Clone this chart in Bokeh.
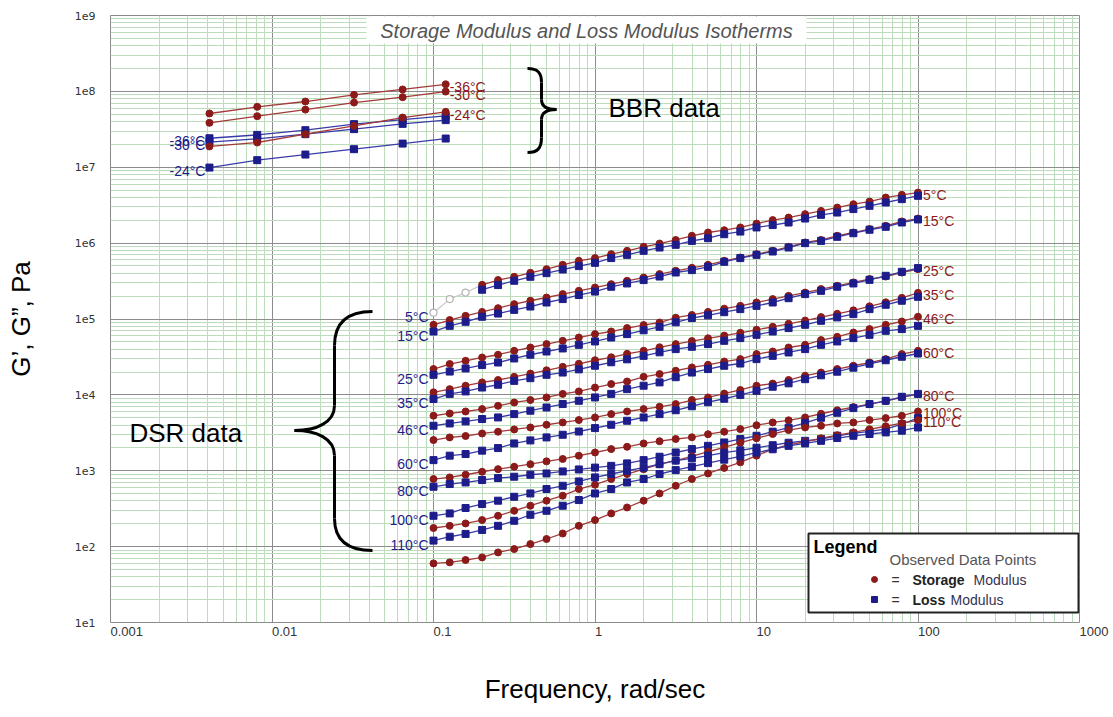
from bokeh.plotting import figure
from bokeh.models import FixedTicker, Label, BoxAnnotation
from bokeh.core.properties import value
from bokeh.embed import file_html
from bokeh.resources import INLINE

# ---------------- data ----------------
freq_dsr = [0.1, 0.126, 0.158, 0.2, 0.251, 0.316, 0.398, 0.501, 0.631, 0.794,
            1.0, 1.26, 1.58, 2.0, 2.51, 3.16, 3.98, 5.01, 6.31, 7.94,
            10.0, 12.6, 15.8, 20.0, 25.1, 31.6, 39.8, 50.1, 63.1, 79.4, 100.0]
freq_bbr = [0.0041, 0.0081, 0.0161, 0.0322, 0.0644, 0.119]

# 5 C: measured points start at 0.2 rad/s; shifted (grey) points below that
shift_05C = [1.21e5, 1.83e5, 2.23e5]
storage_05C = [2.82e5, 3.26e5, 3.60e5, 4.06e5, 4.54e5, 5.18e5, 5.85e5, 6.35e5, 7.16e5, 7.92e5,
               8.94e5, 9.88e5, 1.10e6, 1.25e6, 1.38e6, 1.48e6, 1.61e6, 1.81e6, 2.01e6, 2.17e6,
               2.41e6, 2.66e6, 2.94e6, 3.26e6, 3.53e6, 3.99e6, 4.33e6, 4.64e6]
loss_05C = [2.43e5, 2.80e5, 3.19e5, 3.60e5, 4.02e5, 4.49e5, 4.98e5, 5.50e5, 6.35e5, 7.01e5,
            7.92e5, 8.75e5, 9.50e5, 1.07e6, 1.16e6, 1.31e6, 1.42e6, 1.61e6, 1.73e6, 1.87e6,
            2.11e6, 2.36e6, 2.53e6, 2.81e6, 3.10e6, 3.43e6, 3.80e6, 4.20e6]
storage_15C = [8.39e4, 9.68e4, 1.10e5, 1.24e5, 1.39e5, 1.57e5, 1.74e5, 1.92e5, 2.13e5, 2.35e5,
               2.60e5, 2.88e5, 3.19e5, 3.52e5, 3.91e5, 4.32e5, 4.73e5, 5.18e5, 5.85e5, 6.46e5,
               7.16e5, 7.92e5, 8.94e5, 1.02e6, 1.10e6, 1.25e6, 1.38e6, 1.53e6, 1.69e6, 1.93e6, 2.11e6]
loss_15C = [6.84e4, 8.13e4, 9.19e4, 1.07e5, 1.18e5, 1.32e5, 1.46e5, 1.65e5, 1.83e5, 2.07e5,
            2.30e5, 2.66e5, 2.94e5, 3.26e5, 3.63e5, 4.10e5, 4.41e5, 4.87e5, 5.67e5, 6.35e5,
            7.01e5, 7.75e5, 8.75e5, 1.00e6, 1.07e6, 1.21e6, 1.35e6, 1.50e6, 1.64e6, 1.87e6, 2.05e6]
storage_25C = [2.19e4, 2.55e4, 2.81e4, 3.11e4, 3.38e4, 3.81e4, 4.21e4, 4.67e4, 5.16e4, 5.70e4,
               6.32e4, 6.84e4, 7.59e4, 8.32e4, 8.99e4, 1.04e5, 1.13e5, 1.24e5, 1.37e5, 1.49e5,
               1.65e5, 1.83e5, 2.02e5, 2.23e5, 2.48e5, 2.74e5, 3.03e5, 3.36e5, 3.63e5, 4.10e5, 4.54e5]
loss_25C = [1.84e4, 2.03e4, 2.23e4, 2.47e4, 2.67e4, 3.02e4, 3.38e4, 3.73e4, 4.09e4, 4.57e4,
            5.06e4, 5.70e4, 6.32e4, 7.10e4, 7.89e4, 9.05e4, 1.03e5, 1.12e5, 1.23e5, 1.35e5,
            1.49e5, 1.65e5, 1.88e5, 2.13e5, 2.35e5, 2.66e5, 2.94e5, 3.28e5, 3.71e5, 4.19e5, 4.69e5]
storage_35C = [1.08e4, 1.19e4, 1.32e4, 1.46e4, 1.57e4, 1.73e4, 1.91e4, 2.11e4, 2.34e4, 2.57e4,
               2.86e4, 3.13e4, 3.48e4, 3.81e4, 4.24e4, 4.67e4, 5.12e4, 5.57e4, 6.04e4, 6.58e4,
               7.21e4, 7.89e4, 8.65e4, 9.55e4, 1.06e5, 1.17e5, 1.30e5, 1.47e5, 1.66e5, 1.90e5, 2.21e5]
loss_35C = [8.81e3, 1.03e4, 1.11e4, 1.25e4, 1.36e4, 1.53e4, 1.66e4, 1.84e4, 1.97e4, 2.17e4,
            2.42e4, 2.69e4, 2.94e4, 3.27e4, 3.64e4, 4.01e4, 4.30e4, 4.67e4, 5.16e4, 5.60e4,
            6.19e4, 6.84e4, 7.59e4, 8.39e4, 9.47e4, 1.05e5, 1.16e5, 1.35e5, 1.54e5, 1.74e5, 1.96e5]
storage_46C = [5.31e3, 5.69e3, 6.04e3, 6.50e3, 7.18e3, 7.94e3, 8.55e3, 9.25e3, 1.03e4, 1.11e4,
               1.25e4, 1.39e4, 1.50e4, 1.73e4, 1.88e4, 2.08e4, 2.30e4, 2.49e4, 2.75e4, 2.96e4,
               3.45e4, 3.73e4, 4.21e4, 4.57e4, 5.27e4, 5.82e4, 6.64e4, 7.36e4, 8.39e4, 9.27e4, 1.07e5]
loss_46C = [3.92e3, 4.20e3, 4.47e3, 4.80e3, 5.04e3, 5.58e3, 6.18e3, 6.82e3, 7.57e3, 8.36e3,
            9.25e3, 1.03e4, 1.19e4, 1.32e4, 1.46e4, 1.71e4, 1.97e4, 2.19e4, 2.42e4, 2.59e4,
            2.96e4, 3.27e4, 3.62e4, 4.01e4, 4.57e4, 5.06e4, 5.60e4, 6.19e4, 6.99e4, 7.36e4, 8.13e4]
storage_60C = [2.54e3, 2.75e3, 2.87e3, 3.10e3, 3.27e3, 3.50e3, 3.72e3, 4.04e3, 4.33e3, 4.66e3,
               5.04e3, 5.58e3, 6.04e3, 6.50e3, 6.97e3, 7.57e3, 8.55e3, 9.25e3, 1.04e4, 1.16e4,
               1.32e4, 1.41e4, 1.57e4, 1.79e4, 1.97e4, 2.19e4, 2.42e4, 2.67e4, 2.96e4, 3.45e4, 3.81e4]
loss_60C = [1.38e3, 1.58e3, 1.66e3, 1.84e3, 1.99e3, 2.29e3, 2.51e3, 2.75e3, 2.98e3, 3.29e3,
            3.65e3, 4.04e3, 4.56e3, 5.04e3, 5.58e3, 6.27e3, 7.08e3, 8.00e3, 8.89e3, 1.00e4,
            1.13e4, 1.28e4, 1.42e4, 1.61e4, 1.81e4, 2.02e4, 2.28e4, 2.57e4, 2.86e4, 3.18e4, 3.51e4]
storage_80C = [778, 817, 886, 970, 1.05e3, 1.13e3, 1.22e3, 1.33e3, 1.43e3, 1.58e3,
               1.74e3, 1.93e3, 2.07e3, 2.29e3, 2.45e3, 2.62e3, 2.76e3, 3.03e3, 3.27e3, 3.54e3,
               3.98e3, 4.33e3, 4.62e3, 5.04e3, 5.64e3, 6.27e3, 6.90e3, 7.57e3, 8.28e3, 9.30e3, 1.02e4]
loss_80C = [615, 668, 701, 754, 801, 834, 886, 921, 979, 1.04e3,
            1.10e3, 1.16e3, 1.25e3, 1.38e3, 1.53e3, 1.74e3, 1.93e3, 2.13e3, 2.36e3, 2.62e3,
            2.89e3, 3.27e3, 3.69e3, 4.29e3, 4.99e3, 5.81e3, 6.70e3, 7.57e3, 8.36e3, 9.44e3, 1.03e4]
storage_100C = [176, 188, 202, 224, 255, 297, 346, 403, 469, 574,
                655, 778, 906, 1.05e3, 1.22e3, 1.36e3, 1.55e3, 1.78e3, 2.04e3, 2.34e3,
                2.68e3, 3.05e3, 3.44e3, 3.72e3, 3.92e3, 4.20e3, 4.33e3, 4.66e3, 4.94e3, 5.31e3, 6.04e3]
loss_100C = [255, 274, 323, 364, 403, 454, 502, 574, 634, 723,
             817, 906, 1.00e3, 1.10e3, 1.22e3, 1.36e3, 1.46e3, 1.58e3, 1.73e3, 1.86e3,
             2.01e3, 2.17e3, 2.34e3, 2.48e3, 2.62e3, 2.89e3, 3.10e3, 3.30e3, 3.54e3, 4.12e3, 4.94e3]
storage_110C = [60.1, 62.0, 66.6, 72.1, 83.9, 92.9, 108, 126, 149, 188,
                224, 274, 328, 403, 502, 634, 778, 921, 1.09e3, 1.29e3,
                1.58e3, 1.93e3, 2.20e3, 2.41e3, 2.68e3, 2.94e3, 3.21e3, 3.52e3, 3.86e3, 4.23e3, 4.62e3]
loss_110C = [120, 135, 147, 166, 188, 219, 263, 297, 346, 411,
             502, 574, 701, 778, 906, 1.02e3, 1.13e3, 1.26e3, 1.40e3, 1.55e3,
             1.73e3, 1.92e3, 2.13e3, 2.29e3, 2.48e3, 2.70e3, 2.89e3, 3.05e3, 3.20e3, 3.37e3, 3.72e3]

storage_m36C = [5.11e7, 6.25e7, 7.35e7, 9.0e7, 1.06e8, 1.24e8]
storage_m30C = [3.85e7, 4.71e7, 5.75e7, 7.12e7, 8.39e7, 9.94e7]
storage_m24C = [1.88e7, 2.12e7, 2.73e7, 3.51e7, 4.52e7, 5.37e7]
loss_m36C = [2.41e7, 2.67e7, 3.08e7, 3.70e7, 4.25e7, 4.75e7]
loss_m30C = [2.14e7, 2.37e7, 2.73e7, 3.18e7, 3.73e7, 4.18e7]
loss_m24C = [9.9e6, 1.24e7, 1.47e7, 1.73e7, 2.05e7, 2.39e7]

dsr_temps = ["5°C", "15°C", "25°C", "35°C", "46°C", "60°C", "80°C", "100°C", "110°C"]
bbr_temps = ["-36°C", "-30°C", "-24°C"]

x_ticks = [0.001, 0.01, 0.1, 1.0, 10.0, 100.0, 1000.0]
x_tick_labels = ["0.001", "0.01", "0.1", "1", "10", "100", "1000"]
y_ticks = [1e1, 1e2, 1e3, 1e4, 1e5, 1e6, 1e7, 1e8, 1e9]
y_tick_labels = ["1e1", "1e2", "1e3", "1e4", "1e5", "1e6", "1e7", "1e8", "1e9"]

# ---------------- styling ----------------
RED = "#8b1a1a"
BLUE = "#1c1c8a"
RED_LINE = "#a33a3a"
BLUE_LINE = "#3a3aa8"
SANS = "Liberation Sans"

W, H = 1113, 717
FL, FR, FT, FB = 110, 1079, 15, 622


def dx(px):
    return 10 ** (-3 + 6 * (px - FL) / (FR - FL))


def dy(py):
    return 10 ** (9 - 8 * (py - FT) / (FB - FT))


p = figure(width=W, height=H, x_axis_type="log", y_axis_type="log",
           x_range=(1e-3, 1e3), y_range=(1e1, 1e9),
           output_backend="svg", toolbar_location=None, title=None,
           min_border_left=FL, min_border_right=W - FR,
           min_border_top=FT, min_border_bottom=H - FB)
p.outline_line_color = "#8a8a8a"
p.background_fill_color = "white"
p.border_fill_color = "white"

x_minor = [m * t for t in x_ticks[:-1] for m in range(2, 10)]
y_minor = [m * t for t in y_ticks[:-1] for m in range(2, 10)]
p.xaxis.ticker = FixedTicker(ticks=x_ticks, minor_ticks=x_minor)
p.yaxis.ticker = FixedTicker(ticks=y_ticks, minor_ticks=y_minor)
p.xaxis.major_label_overrides = dict(zip(x_ticks, x_tick_labels))
p.yaxis.major_label_overrides = dict(zip(y_ticks, y_tick_labels))

for g in (p.xgrid[0], p.ygrid[0]):
    g.grid_line_color = "#8c8c8c"
    g.grid_line_width = 1
    g.minor_grid_line_color = "#bcdcbc"
    g.minor_grid_line_width = 1

for ax in (p.xaxis[0], p.yaxis[0]):
    ax.axis_line_color = None
    ax.major_tick_line_color = None
    ax.minor_tick_line_color = None
    ax.axis_label_text_font = SANS
    ax.axis_label_text_font_size = "26px"
    ax.axis_label_text_font_style = "normal"
    ax.axis_label_text_color = "black"
    ax.major_label_text_color = "#333333"

ax = p.yaxis[0]
ax.axis_label = "G’, G”, Pa"
ax.major_label_text_font = "DejaVu Sans"
ax.major_label_text_font_size = "11px"
ax.major_label_standoff = 9
ax.axis_label_standoff = 36

ax = p.xaxis[0]
ax.axis_label = "Frequency, rad/sec"
ax.major_label_text_font = SANS
ax.major_label_text_font_size = "13px"
ax.major_label_orientation = -1e-6      # tiny negative angle -> labels start at the tick
ax.major_label_standoff = 3
ax.axis_label_standoff = 30

# title with white backing
p.add_layout(BoxAnnotation(left=dx(366), right=dx(806), top=dy(16), bottom=dy(43),
                           fill_color="white", fill_alpha=1, line_color=None))
p.add_layout(Label(x=dx(586), y=dy(30), text="Storage Modulus and Loss Modulus Isotherms",
                   text_align="center", text_baseline="middle", text_font=SANS,
                   text_font_size="20px", text_font_style="italic", text_color="#555555"))

# ---------------- series ----------------
dsr_storage = [storage_05C, storage_15C, storage_25C, storage_35C, storage_46C,
               storage_60C, storage_80C, storage_100C, storage_110C]
dsr_loss = [loss_05C, loss_15C, loss_25C, loss_35C, loss_46C,
            loss_60C, loss_80C, loss_100C, loss_110C]

# grey shifted points of 5 C
gx = freq_dsr[:3] + [freq_dsr[3]]
gy = shift_05C + [storage_05C[0]]
p.line(gx, gy, line_color="#c8c8c8", line_width=1.2)
p.scatter(freq_dsr[:3], shift_05C, marker="circle", size=7, fill_color="white",
          line_color="#b4b4b4", line_width=1.2)


def draw(fx, g1, g2):
    p.line(fx, g1, line_color=RED_LINE, line_width=1.3)
    p.scatter(fx, g1, marker="circle", size=7, fill_color=RED, line_color=RED)
    p.line(fx, g2, line_color=BLUE_LINE, line_width=1.3)
    p.scatter(fx, g2, marker="square", size=7, fill_color=BLUE, line_color=BLUE)


for g1, g2 in zip(dsr_storage, dsr_loss):
    fx = freq_dsr[len(freq_dsr) - len(g1):]
    draw(fx, g1, g2)

bbr_storage = [storage_m36C, storage_m30C, storage_m24C]
bbr_loss = [loss_m36C, loss_m30C, loss_m24C]
for g1, g2 in zip(bbr_storage, bbr_loss):
    draw(freq_bbr, g1, g2)

# temperature labels
left_y = [shift_05C[0]] + [g[0] for g in dsr_loss[1:]]
p.text(x=[freq_dsr[0]] * len(dsr_temps), y=left_y, text=dsr_temps, x_offset=-5, y_offset=4,
       text_align="right", text_baseline="middle", text_color=BLUE,
       text_font=value(SANS), text_font_size="14px")
p.text(x=[freq_dsr[-1]] * len(dsr_temps), y=[g[-1] for g in dsr_storage], text=dsr_temps,
       x_offset=5, y_offset=2, text_align="left", text_baseline="middle", text_color=RED,
       text_font=value(SANS), text_font_size="14px")
p.text(x=[freq_bbr[-1]] * 3, y=[g[-1] for g in bbr_storage], text=bbr_temps,
       x_offset=4, y_offset=3, text_align="left", text_baseline="middle", text_color=RED,
       text_font=value(SANS), text_font_size="14px")
p.text(x=[freq_bbr[0]] * 3, y=[g[0] for g in bbr_loss], text=bbr_temps,
       x_offset=-4, y_offset=3, text_align="right", text_baseline="middle", text_color=BLUE,
       text_font=value(SANS), text_font_size="14px")

# ---------------- braces and group notes ----------------
def brace(pieces, straight):
    for (a, c0, c1, b) in pieces:
        p.bezier(x0=[dx(a[0])], y0=[dy(a[1])], x1=[dx(b[0])], y1=[dy(b[1])],
                 cx0=[dx(c0[0])], cy0=[dy(c0[1])], cx1=[dx(c1[0])], cy1=[dy(c1[1])],
                 line_color="black", line_width=3)
    for (a, b) in straight:
        p.segment(x0=[dx(a[0])], y0=[dy(a[1])], x1=[dx(b[0])], y1=[dy(b[1])],
                  line_color="black", line_width=3)


brace([((527, 68), (537, 68), (541, 72), (541, 82)),
       ((541, 99), (541, 106), (547, 109), (556, 109)),
       ((556, 109), (547, 109), (541, 112), (541, 119)),
       ((541, 137), (541, 148), (537, 152), (527, 152))],
      [((541, 82), (541, 99)), ((541, 119), (541, 137))])

brace([((372, 311), (347, 311), (334, 322), (334, 345)),
       ((334, 405), (334, 422), (316, 430), (294, 430)),
       ((294, 430), (316, 430), (334, 438), (334, 455)),
       ((334, 518), (334, 540), (347, 550), (372, 550))],
      [((334, 345), (334, 405)), ((334, 455), (334, 518))])

p.add_layout(Label(x=dx(608), y=dy(107), text="BBR data", text_align="left",
                   text_baseline="middle", text_font=SANS,
                   text_font_size="26px", text_color="black"))
p.add_layout(Label(x=dx(129), y=dy(432), text="DSR data", text_align="left",
                   text_baseline="middle", text_font=SANS,
                   text_font_size="26px", text_color="black"))

# ---------------- legend box ----------------
p.add_layout(BoxAnnotation(left=dx(808), right=dx(1078), top=dy(533), bottom=dy(612),
                           fill_color="white", fill_alpha=1, line_color="#222222",
                           line_width=2, line_alpha=1))
p.add_layout(Label(x=dx(813), y=dy(546), text="Legend", text_align="left",
                   text_baseline="middle", text_font=SANS,
                   text_font_size="18px", text_font_style="bold", text_color="black"))
p.add_layout(Label(x=dx(889), y=dy(559), text="Observed Data Points", text_align="left",
                   text_baseline="middle", text_font=SANS,
                   text_font_size="15px", text_color="#555555"))
for yy, lab in ((579, "Storage"), (599, "Loss")):
    p.add_layout(Label(x=dx(891), y=dy(yy), text="=", text_align="left",
                       text_baseline="middle", text_font=SANS,
                       text_font_size="14px", text_color="#333333"))
    p.add_layout(Label(x=dx(912), y=dy(yy), text=lab, text_align="left",
                       text_baseline="middle", text_font=SANS,
                       text_font_size="14px", text_font_style="bold", text_color="#222222"))
p.add_layout(Label(x=dx(973), y=dy(579), text="Modulus", text_align="left",
                   text_baseline="middle", text_font=SANS,
                   text_font_size="14px", text_color="#333355"))
p.add_layout(Label(x=dx(950), y=dy(599), text="Modulus", text_align="left",
                   text_baseline="middle", text_font=SANS,
                   text_font_size="14px", text_color="#333355"))
lr = p.scatter([dx(874)], [dy(579)], marker="circle", size=6, fill_color=RED, line_color=RED)
lr.level = "overlay"
lb = p.scatter([dx(874)], [dy(599)], marker="square", size=6, fill_color=BLUE, line_color=BLUE)
lb.level = "overlay"

open("out.html", "w").write(file_html(p, INLINE))
